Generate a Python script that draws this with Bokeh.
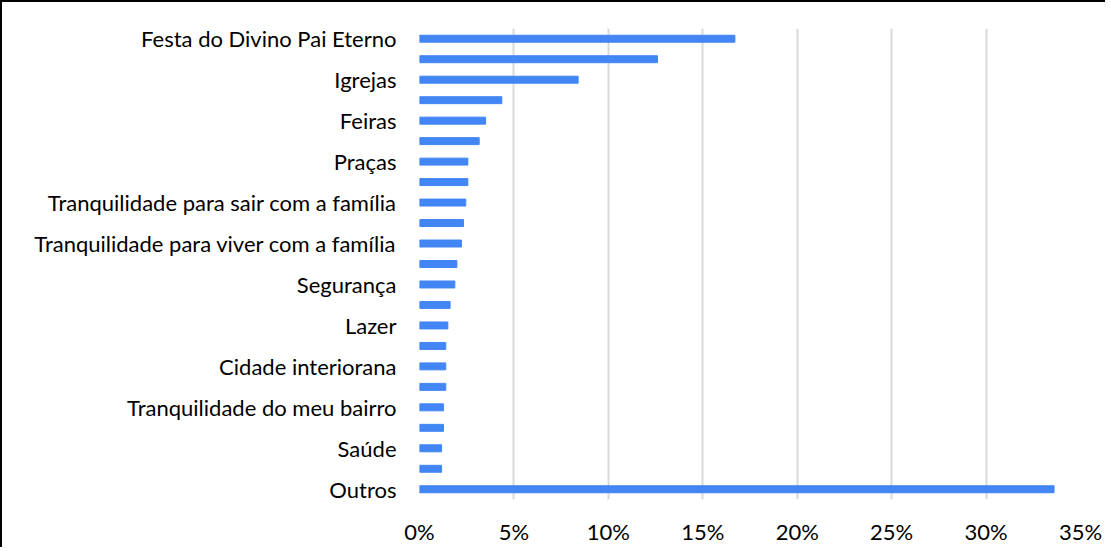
from bokeh.plotting import figure
from bokeh.models import Range1d, FixedTicker, ColumnDataSource
from bokeh.embed import file_html
from bokeh.resources import INLINE

# Categories (top to bottom); only every other label is shown in the original chart
categories = [
    "Festa do Divino Pai Eterno", "", "Igrejas", "", "Feiras", "", "Praças", "",
    "Tranquilidade para sair com a família", "", "Tranquilidade para viver com a família", "",
    "Segurança", "", "Lazer", "", "Cidade interiorana", "", "Tranquilidade do meu bairro", "",
    "Saúde", "", "Outros",
]
values = [16.7, 12.6, 8.4, 4.36, 3.5, 3.16, 2.56, 2.56, 2.45, 2.33, 2.22, 1.98,
          1.87, 1.62, 1.5, 1.39, 1.39, 1.39, 1.27, 1.27, 1.17, 1.17, 33.6]
x_ticks = [0, 5, 10, 15, 20, 25, 30, 35]

idx = list(range(len(categories)))
src = ColumnDataSource(dict(y=idx, v=values))

p = figure(frame_width=661, frame_height=471, output_backend="svg", toolbar_location=None,
           x_range=Range1d(0, 35), y_range=Range1d(len(categories) - 0.5, -0.5),
           min_border_left=417, min_border_right=25, min_border_top=26, min_border_bottom=47,
           outline_line_color=None)
p.styles = {"border-left": "2px solid black", "border-top": "2px solid black"}

p.hbar(y="y", left=0, right="v", height=0.34, source=src, color="#4285F4")

fs = "22px"
font = "Lato"
p.yaxis.ticker = FixedTicker(ticks=[i for i in idx if categories[i]])
p.yaxis.major_label_overrides = {i: categories[i] for i in idx if categories[i]}
p.yaxis.axis_line_color = None
p.yaxis.major_tick_line_color = None
p.yaxis.minor_tick_line_color = None
p.yaxis.major_label_standoff = 17
p.yaxis.major_label_text_font = font
p.yaxis.major_label_text_font_size = fs
p.yaxis.major_label_text_color = "#000000"

p.xaxis.ticker = FixedTicker(ticks=x_ticks)
p.xaxis.major_label_overrides = {t: f"{t}%" for t in x_ticks}
p.xaxis.axis_line_color = None
p.xaxis.major_tick_line_color = None
p.xaxis.minor_tick_line_color = None
p.xaxis.major_label_standoff = 12
p.xaxis.major_label_text_font = font
p.xaxis.major_label_text_font_size = fs
p.xaxis.major_label_text_color = "#000000"

p.ygrid.grid_line_color = None
p.xgrid.grid_line_color = "#d9d9d9"
p.xgrid.grid_line_width = 2

open("out.html", "w").write(file_html(p, INLINE))
